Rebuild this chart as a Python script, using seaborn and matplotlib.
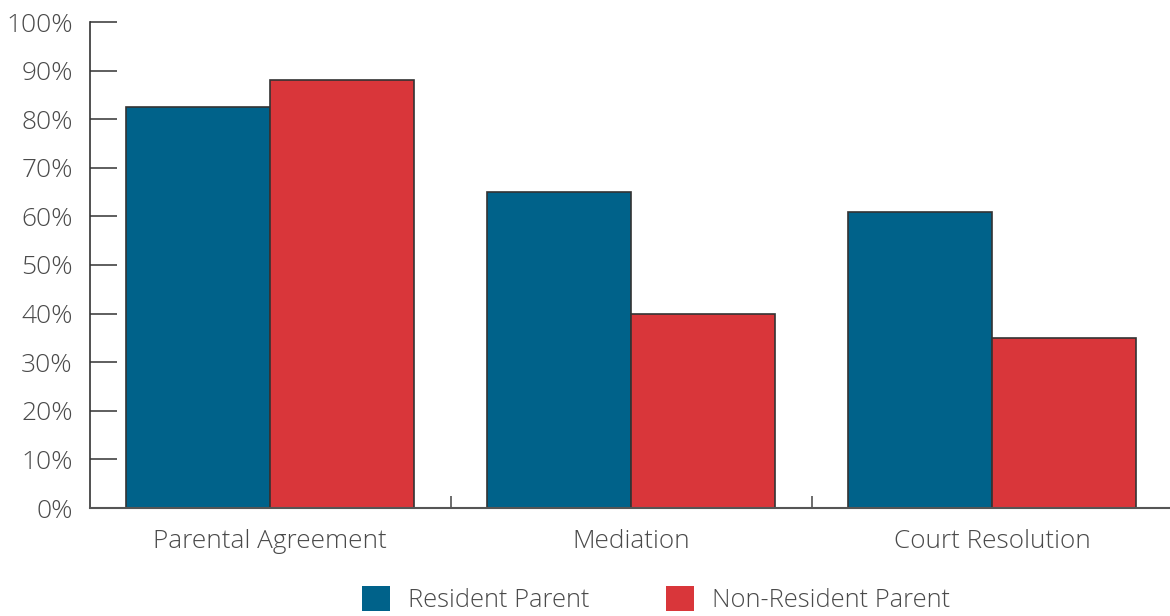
import matplotlib
matplotlib.use("Agg")
import matplotlib.pyplot as plt
from matplotlib.patches import Patch
from matplotlib.ticker import FixedLocator, PercentFormatter
import seaborn as sns
import pandas as pd

categories = ["Parental Agreement", "Mediation", "Court Resolution"]
resident = [82.5, 65, 61]
non_resident = [88, 40, 35]
series_names = ["Resident Parent", "Non-Resident Parent"]
colors = ["#00628a", "#d9363a"]

df = pd.DataFrame({
    "category": categories * 2,
    "value": resident + non_resident,
    "series": [series_names[0]] * 3 + [series_names[1]] * 3,
})

sns.set_theme(style="white")
plt.rcParams["font.family"] = ["Open Sans", "DejaVu Sans"]
plt.rcParams["font.weight"] = "light"
text_color = "#4a4a4a"

fig = plt.figure(figsize=(11.7, 6.16), dpi=100)
ax = fig.add_axes([89.5 / 1170, 1 - 508 / 616, 1083 / 1170, (508 - 22) / 616])

sns.barplot(data=df, x="category", y="value", hue="series", palette=colors,
            order=categories, hue_order=series_names, width=0.8,
            edgecolor="#333333", linewidth=1.2, saturation=1, ax=ax, legend=False)

ax.set_xlim(-0.5, 2.5)
ax.set_ylim(0, 100)
ax.set_xlabel("")
ax.set_ylabel("")
ax.set_yticks(range(0, 101, 10))
ax.yaxis.set_major_formatter(PercentFormatter(decimals=0))

for side in ["top", "right"]:
    ax.spines[side].set_visible(False)
ax.spines["left"].set_color("#333333")
ax.spines["bottom"].set_color("#555555")
ax.spines["left"].set_linewidth(1.2)
ax.spines["bottom"].set_linewidth(1.5)

ax.tick_params(axis="y", direction="in", length=19.5, width=1.1, color="#333333",
               labelsize=19, labelcolor=text_color, pad=12, left=True)
ax.tick_params(axis="x", which="major", length=0, labelsize=18.8, labelcolor=text_color, pad=15)
ax.xaxis.set_minor_locator(FixedLocator([0.5, 1.5]))
ax.tick_params(axis="x", which="minor", direction="in", length=8.5, width=1.1,
               color="#444444", bottom=True)

handles = [Patch(facecolor=c, edgecolor="none") for c in colors]
fig.legend(handles, series_names, loc="upper center", bbox_to_anchor=(0.5605, 0.049),
           ncol=2, frameon=False, fontsize=18.4, labelcolor=text_color,
           handlelength=1.12, handleheight=1.15, handletextpad=0.68, columnspacing=3.0,
           borderaxespad=0, borderpad=0)

fig.savefig("out.png", dpi=100)
